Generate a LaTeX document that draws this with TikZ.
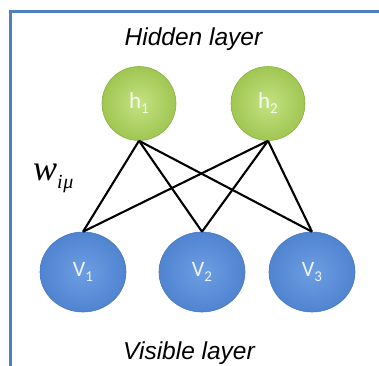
\documentclass[tikz,border=0pt]{standalone}
\usepackage{fontspec}
\setmainfont{Liberation Sans}
\newfontfamily\nodefont{Carlito}
\newfontfamily\mathserif{Liberation Serif}
\usetikzlibrary{shapes.geometric}
\definecolor{framebl}{HTML}{4F81BD}
\definecolor{hidin}{HTML}{C4E283}
\definecolor{hidout}{HTML}{A0C652}
\definecolor{hidedge}{HTML}{8CB044}
\definecolor{visin}{HTML}{6D9EE3}
\definecolor{visout}{HTML}{5084D0}
\definecolor{visedge}{HTML}{4A78C0}
\tikzset{
  layerlabel/.style={font=\fontsize{24.5}{28}\selectfont\itshape, anchor=base, inner sep=0pt},
  hidunit/.style={circle, minimum size=74pt, inner sep=0pt, draw=hidedge, line width=0.6pt,
    inner color=hidin, outer color=hidout,
    text=white!85!hidin, font=\nodefont\fontsize{23}{24}\selectfont},
  visunit/.style={ellipse, minimum width=86pt, minimum height=80pt, inner sep=0pt, draw=visedge, line width=0.6pt,
    inner color=visin, outer color=visout,
    text=white!88!visin, font=\nodefont\fontsize{22}{24}\selectfont},
  weight/.style={black, line width=2.1pt},
  frameline/.style={framebl, line width=3pt}
}
\newcommand{\unitsub}[2]{\raisebox{#1}{\fontsize{15}{15}\selectfont #2}}
\begin{document}
\begin{tikzpicture}[x=1pt, y=-1pt]
\useasboundingbox (0,0) rectangle (379,365);
\clip (0,0) rectangle (379,365);
\fill[white] (0,0) rectangle (379,365);
% frame corner
\draw[frameline] (10,370) -- (10,11) -- (385,11);
% layer captions
\node[layerlabel] (hidcap) at (193.5,45) {Hidden layer};
\node[layerlabel] (viscap) at (189,359.5) {Visible layer};
% weight label
\node[anchor=base west, inner sep=0pt, font=\mathserif\itshape] (wlab) at (33,180)
  {\fontsize{36}{36}\selectfont w\raisebox{-8pt}{\fontsize{20}{20}\selectfont i\kern0.5pt μ}};
% units
\node[hidunit] (h1) at (139,103.5) {\raisebox{-2pt}{h\unitsub{-5pt}{1}}};
\node[hidunit] (h2) at (268,103.5) {\raisebox{-2pt}{h\unitsub{-5pt}{2}}};
\node[visunit] (v1) at (83,272) {\raisebox{-2pt}{V\unitsub{-4.5pt}{1}}};
\node[visunit] (v2) at (202,272) {\raisebox{-2pt}{V\unitsub{-4.5pt}{2}}};
\node[visunit] (v3) at (312,272) {\raisebox{-2pt}{V\unitsub{-4.5pt}{3}}};
% weights
\foreach \h in {h1,h2}
  \foreach \v in {v1,v2,v3}
    \draw[weight] (\h.south) -- (\v.north);
\end{tikzpicture}
\end{document}
